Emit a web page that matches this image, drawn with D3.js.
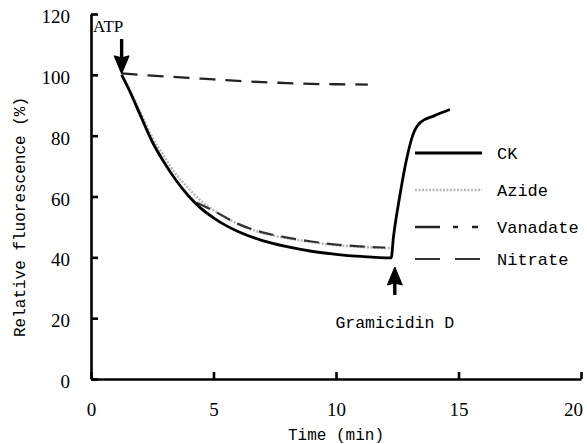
<!DOCTYPE html>
<html>
<head>
<meta charset="utf-8">
<script src="https://cdn.jsdelivr.net/npm/d3@7"></script>
<style>
  body { margin: 0; background: #fff; }
  svg { display: block; }
  .mono { font-family: "Liberation Mono", monospace; fill: #000; }
</style>
</head>
<body>
<div id="chart"></div>
<script>
// time (min) and relative fluorescence (%)
const ckTime = [1.25, 1.5, 2.0, 2.5, 3.0, 3.5, 4.0, 4.5, 5.0, 5.5, 6.0, 7.0, 8.0, 9.0, 10.0, 11.0, 12.25, 12.35, 12.6, 12.9, 13.15, 13.45, 14.0, 14.65];
const ckValue = [100, 96, 87, 78, 71, 65, 60, 56, 53, 50.5, 48.5, 45.5, 43.5, 42, 41, 40.3, 39.8, 47, 60, 73, 80.5, 84.4, 86.5, 88.6];
const azideTime = [1.25, 1.5, 2.0, 2.5, 3.0, 3.5, 4.0, 4.5, 5.0, 6.0, 7.0, 8.0, 9.0, 10.0, 11.0, 12.2];
const azideValue = [100, 96.5, 88, 79.5, 73, 67, 62.5, 58.5, 55.5, 51, 48, 46.3, 45, 44, 43.4, 43];
const vanadateTime = [1.25, 2, 3, 4, 5, 6, 7, 8, 9, 10, 11.3];
const vanadateValue = [100.5, 100, 99.5, 99, 98.5, 98, 97.6, 97.3, 97, 96.9, 96.8];
const nitrateTime = [4.3, 5.0, 6.0, 7.0, 8.0, 9.0, 10.0, 11.0, 12.0];
const nitrateValue = [58, 55.3, 51, 48.2, 46.5, 45.2, 44.2, 43.6, 43.2];
const xTicks = [0, 5, 10, 15, 20];
const yTicks = [0, 20, 40, 60, 80, 100, 120];
const seriesNames = ["CK", "Azide", "Vanadate", "Nitrate"];

const width = 587, height = 444;
const svg = d3.select("#chart").append("svg").attr("width", width).attr("height", height);

const x = d3.scaleLinear().domain([0, 20]).range([91, 581]);
const y = d3.scaleLinear().domain([0, 120]).range([379, 14]);

const styles = {
  CK: { stroke: "#000", width: 2.8, dash: null },
  Azide: { stroke: "#b8b8b8", width: 2.5, dash: "2,1.5" },
  Vanadate: { stroke: "#222", width: 2.3, dash: "16,10" },
  Nitrate: { stroke: "#333", width: 2.2, dash: "15,8" }
};

// axes
const xAxis = d3.axisBottom(x).tickValues(xTicks).tickSize(-7).tickPadding(26).tickSizeOuter(0);
svg.append("g").attr("class", "xAxis").attr("transform", `translate(0,${y(0)})`).call(xAxis);
const yAxis = d3.axisLeft(y).tickValues(yTicks).tickSize(-7).tickPadding(21).tickSizeOuter(0);
svg.append("g").attr("class", "yAxis").attr("transform", `translate(${x(0)},0)`).call(yAxis);
svg.selectAll(".domain").attr("stroke", "#000").attr("stroke-width", 2.6);
svg.selectAll(".tick line").attr("stroke", "#000").attr("stroke-width", 2.6);
svg.selectAll(".tick text")
  .style("font-family", "'Liberation Serif', 'DejaVu Serif', serif")
  .style("font-size", "19px").attr("fill", "#000");
svg.selectAll(".yAxis .tick text").attr("dy", "0.45em");
svg.selectAll(".xAxis .tick text").attr("dy", "0.6em");
svg.selectAll(".xAxis .tick text").filter(d => d === 20).attr("dx", -8);

svg.append("text").attr("class", "mono").attr("x", 336).attr("y", 440)
  .attr("text-anchor", "middle").style("font-size", "16px").text("Time (min)");
svg.append("text").attr("class", "mono")
  .attr("transform", `translate(25,217) rotate(-90)`)
  .attr("text-anchor", "middle").style("font-size", "16px").text("Relative fluorescence (%)");

// lines
const line = d3.line().x(d => x(d[0])).y(d => y(d[1])).curve(d3.curveMonotoneX);
function drawSeries(name, ts, vs) {
  const s = styles[name];
  svg.append("path")
    .datum(ts.map((t, i) => [t, vs[i]]))
    .attr("d", line)
    .attr("fill", "none")
    .attr("stroke", s.stroke)
    .attr("stroke-width", s.width)
    .attr("stroke-dasharray", s.dash)
    .attr("stroke-linejoin", "round");
}
drawSeries("Azide", azideTime, azideValue);
drawSeries("Nitrate", nitrateTime, nitrateValue);
drawSeries("Vanadate", vanadateTime, vanadateValue);
drawSeries("CK", ckTime, ckValue);

// legend
const legendY = [153, 190, 227, 259];
const legendDash = { CK: null, Azide: "2,1.5", Vanadate: "25,13,5,14,6,100", Nitrate: "25,15,25,100" };
seriesNames.forEach((name, i) => {
  const s = styles[name];
  svg.append("line").attr("x1", 415).attr("x2", 482).attr("y1", legendY[i]).attr("y2", legendY[i])
    .attr("stroke", s.stroke).attr("stroke-width", s.width).attr("stroke-dasharray", legendDash[name]);
  svg.append("text").attr("class", "mono").attr("x", 497).attr("y", legendY[i] + 6)
    .style("font-size", "17px").text(name);
});

// annotations
function arrow(px, tipY, tailY) {
  const dir = tipY > tailY ? 1 : -1;
  const headLen = 18, half = 7.5;
  svg.append("line").attr("x1", px).attr("x2", px).attr("y1", tailY).attr("y2", tipY - dir * headLen + dir * 2)
    .attr("stroke", "#000").attr("stroke-width", 3.4);
  svg.append("path")
    .attr("d", `M${px},${tipY} L${px - half},${tipY - dir * headLen} L${px},${tipY - dir * (headLen - 2)} L${px + half},${tipY - dir * headLen} Z`)
    .attr("fill", "#000").attr("stroke", "#000").attr("stroke-width", 1);
}
arrow(x(1.25), y(100) - 1, 39);
svg.append("text").attr("x", 93).attr("y", 32)
  .style("font-family", "'Liberation Serif', serif").style("font-size", "17px").text("ATP");
arrow(x(12.4), 267, 295);
svg.append("text").attr("class", "mono").attr("x", x(12.4)).attr("y", 328)
  .attr("text-anchor", "middle").style("font-size", "16.5px").text("Gramicidin D");
</script>
</body>
</html>
